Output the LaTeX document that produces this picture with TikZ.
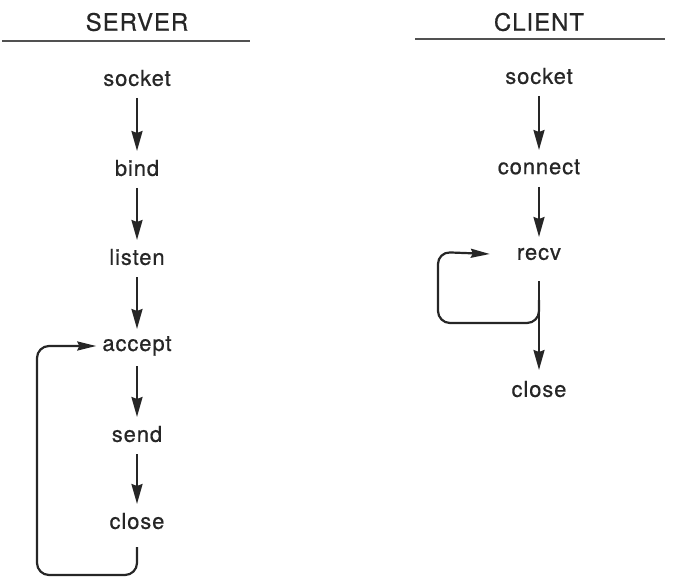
\documentclass[tikz,border=0pt]{standalone}
\usepackage{fontspec}
\setmainfont{TeX Gyre Heros}[LetterSpace=4,FakeBold=0.6]
\usetikzlibrary{arrows.meta}
\definecolor{ink}{HTML}{262626}
\tikzset{
  lbl/.style={inner sep=0pt, text=ink, font=\fontsize{22}{26}\selectfont},
  ttl/.style={inner sep=0pt, text=ink, font=\fontsize{24}{28}\selectfont},
  rule/.style={draw=ink!80, line width=1.2pt},
  arr/.style={draw=ink, line width=2.2pt, -{Stealth[length=20pt,width=11pt,inset=2pt]}},
  loopline/.style={draw=ink, line width=2.2pt, rounded corners=12pt, -{Stealth[length=19pt,width=9pt,inset=2pt]}}
}
\begin{document}
\begin{tikzpicture}[x=1pt,y=-1pt]
\useasboundingbox (0,0) rectangle (675,583);
% titles
\node[ttl] (st) at (137,22) {SERVER};
\node[ttl] (ct) at (539,22) {CLIENT};
\coordinate (sl1) at (2,41); \coordinate (sl2) at (250,41);
\coordinate (cl1) at (415,39); \coordinate (cl2) at (665,39);
\draw[rule] (sl1) -- (sl2);
\draw[rule] (cl1) -- (cl2);
% server column
\node[lbl] (s1) at (137,78) {socket};
\node[lbl] (s2) at (137,168) {bind};
\node[lbl] (s3) at (137,257) {listen};
\node[lbl] (s4) at (137,346) {accept};
\node[lbl] (s5) at (137,434) {send};
\node[lbl] (s6) at (137,521) {close};
\draw[arr] ([yshift=-20]s1.center) -- ([yshift=17]s2.center);
\draw[arr] ([yshift=-20]s2.center) -- ([yshift=17]s3.center);
\draw[arr] ([yshift=-20]s3.center) -- ([yshift=17]s4.center);
\draw[arr] ([yshift=-20]s4.center) -- ([yshift=17]s5.center);
\draw[arr] ([yshift=-20]s5.center) -- ([yshift=17]s6.center);
\coordinate (sb1) at (137,575);
\coordinate (sb2) at (37,575);
\coordinate (sb3) at (37,346);
\draw[loopline] ([yshift=-26]s6.center) -- (sb1) -- (sb2) -- (sb3) -- ([xshift=-6]s4.west);
% client column
\node[lbl] (c1) at (539,76) {socket};
\node[lbl] (c2) at (539,167) {connect};
\node[lbl] (c3) at (539,254) {recv};
\node[lbl] (c4) at (539,389) {close};
\draw[arr] ([yshift=-20]c1.center) -- ([yshift=17]c2.center);
\draw[arr] ([yshift=-20]c2.center) -- ([yshift=17]c3.center);
\draw[arr] ([yshift=-27]c3.center) -- ([yshift=19]c4.center);
\coordinate (cb0) at (539,300);
\coordinate (cb1) at (539,323);
\coordinate (cb2) at (438,323);
\coordinate (cb3) at (438,252);
\draw[loopline] (cb0) -- (cb1) -- (cb2) -- (cb3) -- ([xshift=-27]c3.west);
\end{tikzpicture}
\end{document}
